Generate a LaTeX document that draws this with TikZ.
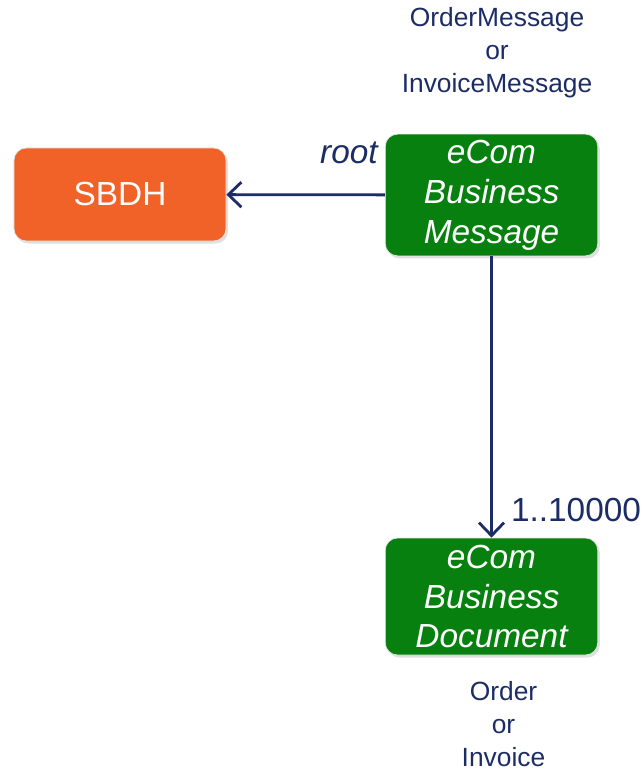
\documentclass[tikz,border=0pt]{standalone}
\usepackage{fontspec}
\setmainfont{Liberation Sans}
\usepackage{tikz}
\usetikzlibrary{shapes,arrows,arrows.meta,positioning,calc,shadows}
\usepackage{xcolor}

\definecolor{sbdhorange}{RGB}{240,98,40}
\definecolor{ecomgreen}{RGB}{8,128,16}
\definecolor{navy}{RGB}{28,44,102}

\begin{document}
\begin{tikzpicture}[every node/.style={font=\fontsize{19}{22.7}\selectfont},
    box/.style={rounded corners=7pt, minimum width=4.25cm, align=center, text=white, draw=white!80!gray, line width=0.4pt, drop shadow={opacity=0.25, shadow xshift=0.04cm, shadow yshift=-0.05cm}},
    note/.style={text=navy, align=center, font=\fontsize{15}{18.8}\selectfont},
    link/.style={-{Straight Barb[length=2.6mm,width=5mm]}, navy, line width=1.6pt}]
        \useasboundingbox (0,0) rectangle (12.84,-15.42);
        \node[box, fill=sbdhorange, minimum width=4.24cm, minimum height=1.86cm] (sbdh) at (2.40,-3.89) {SBDH};
        \node[box, fill=ecomgreen, minimum height=2.36cm, font=\fontsize{19}{22.7}\itshape] (msg) at (9.83,-3.90) {eCom\\Business\\Message};
        \node[box, fill=ecomgreen, minimum height=2.34cm, font=\fontsize{19}{22.7}\itshape] (doc) at (9.83,-11.93) {eCom\\Business\\Document};
        \node[note] (msgtype) at (9.94,-1.05) {OrderMessage\\or\\InvoiceMessage};
        \node[note] (doctype) at (10.07,-14.48) {Order\\or\\Invoice};
        \draw[link] (msg) -- (sbdh);
        \draw[link] (msg) -- (doc);
        \node[text=navy, font=\fontsize{19}{22}\itshape] (root) at (6.98,-3.06) {root};
        \node[text=navy] (card) at (11.52,-10.2) {1..10000};
    \end{tikzpicture}
\end{document}
